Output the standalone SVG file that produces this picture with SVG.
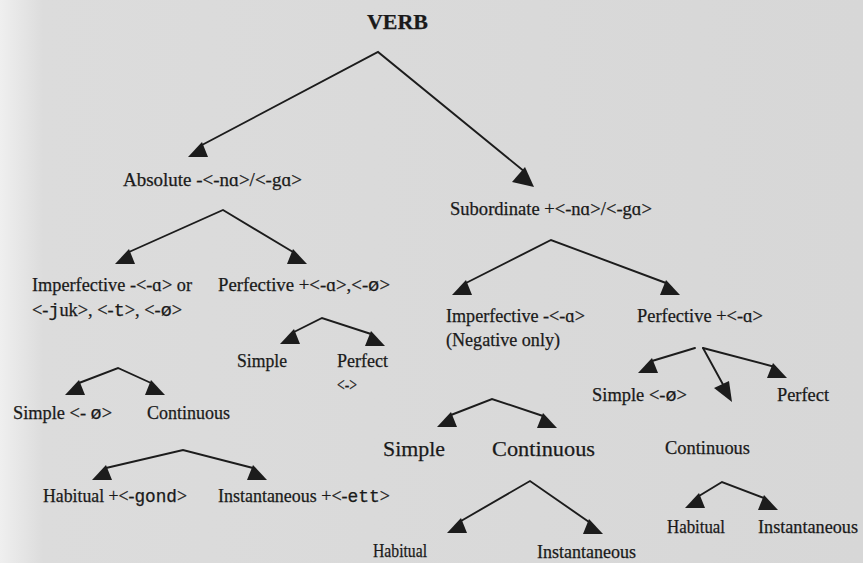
<svg xmlns="http://www.w3.org/2000/svg" xmlns:xlink="http://www.w3.org/1999/xlink" width="863" height="563" viewBox="0 0 863 563">
  <style>
    text { font-family: "Liberation Serif", "Times New Roman", serif; font-size: 18px; fill: #1a1a1a; stroke: #1a1a1a; stroke-width: 0.25; }
    .big { font-size: 22px; }
    .title { font-size: 20px; font-weight: bold; }
    .mono { font-family: "Liberation Mono", "Courier New", monospace; }
    .edge { stroke: #1c1c1c; stroke-width: 1.9; fill: none; stroke-linecap: round; }
    .head { fill: #1c1c1c; }
  </style>
  <defs>
    <linearGradient id="paper" x1="0" y1="0" x2="1" y2="0">
      <stop offset="0" stop-color="#efefef"/>
      <stop offset="0.05" stop-color="#dcdcdc"/>
      <stop offset="1" stop-color="#d7d7d7"/>
    </linearGradient>
    <!-- flat-based arrowheads: apex at origin, leaning toward the parent -->
    <polygon id="hl" class="head" points="0,0 6,15 -14,15"/>
    <polygon id="hr" class="head" points="0,0 14,15 -6,15"/>
  </defs>

  <rect width="863" height="563" fill="url(#paper)"/>

  <!-- connectors -->
  <g id="connectors">
    <!-- VERB -->
    <polyline class="edge" points="202,145 378,52 525,172"/>
    <use href="#hl" x="202" y="142"/>
    <polygon class="head" points="525,167 534,187 512,182"/>
    <!-- Absolute -->
    <polyline class="edge" points="129,252 223,210 293,252"/>
    <use href="#hl" x="129" y="249"/>
    <use href="#hr" x="293" y="249"/>
    <!-- Perfective (absolute) -->
    <polyline class="edge" points="294,332 322,318 371,334"/>
    <use href="#hl" x="294" y="329"/>
    <use href="#hr" x="371" y="331"/>
    <!-- Imperfective (absolute) -->
    <polyline class="edge" points="79,383 118,368 151,383"/>
    <use href="#hl" x="79" y="380"/>
    <use href="#hr" x="151" y="380"/>
    <!-- Continuous (absolute) -->
    <polyline class="edge" points="106,468 183,450 253,468"/>
    <use href="#hl" x="106" y="465"/>
    <use href="#hr" x="253" y="465"/>
    <!-- Subordinate -->
    <polyline class="edge" points="466,283 551,240 666,283"/>
    <use href="#hl" x="466" y="280"/>
    <use href="#hr" x="666" y="280"/>
    <!-- Perfective (subordinate) -->
    <polyline class="edge" points="652,361 695,348"/>
    <use href="#hl" x="652" y="358"/>
    <polyline class="edge" points="703,348 726,390"/>
    <polygon class="head" points="714,388 729,381 732,402"/>
    <polyline class="edge" points="703,348 775,367"/>
    <use href="#hr" x="773" y="363"/>
    <!-- Imperfective (subordinate) -->
    <polyline class="edge" points="451,415 492,399 543,416"/>
    <use href="#hl" x="451" y="412"/>
    <use href="#hr" x="543" y="413"/>
    <!-- Continuous (subordinate, imperfective) -->
    <polyline class="edge" points="461,521 530,481 589,522"/>
    <use href="#hl" x="461" y="518"/>
    <use href="#hr" x="589" y="519"/>
    <!-- Continuous (subordinate, perfective) -->
    <polyline class="edge" points="699,496 722,482 764,498"/>
    <use href="#hl" x="699" y="493"/>
    <use href="#hr" x="764" y="495"/>
  </g>

  <!-- nodes -->
  <g id="verb"><text class="title" x="367" y="29" textLength="61" lengthAdjust="spacingAndGlyphs">VERB</text></g>

  <g id="absolute"><text x="123" y="186" textLength="179" lengthAdjust="spacingAndGlyphs">Absolute -&lt;-nɑ&gt;/&lt;-gɑ&gt;</text></g>
  <g id="subordinate"><text x="450" y="215" textLength="202" lengthAdjust="spacingAndGlyphs">Subordinate +&lt;-nɑ&gt;/&lt;-gɑ&gt;</text></g>

  <g id="abs-imperfective">
    <text x="32" y="291" textLength="160" lengthAdjust="spacingAndGlyphs">Imperfective -&lt;-ɑ&gt; or</text>
    <text x="32" y="316" textLength="150" lengthAdjust="spacingAndGlyphs">&lt;-<tspan class="mono">j</tspan>uk&gt;, &lt;-<tspan class="mono">t</tspan>&gt;, &lt;-<tspan class="mono">ø</tspan>&gt;</text>
  </g>
  <g id="abs-perfective"><text x="218" y="291" textLength="172" lengthAdjust="spacingAndGlyphs">Perfective +&lt;-ɑ&gt;,&lt;-<tspan class="mono">ø</tspan>&gt;</text></g>

  <g id="abs-perf-simple"><text x="237" y="367" textLength="50" lengthAdjust="spacingAndGlyphs">Simple</text></g>
  <g id="abs-perf-perfect">
    <text x="337" y="367" textLength="51" lengthAdjust="spacingAndGlyphs">Perfect</text>
    <text x="337" y="391" textLength="20" lengthAdjust="spacingAndGlyphs">&lt;-&gt;</text>
  </g>

  <g id="abs-imp-simple"><text x="13" y="419" textLength="99" lengthAdjust="spacingAndGlyphs">Simple &lt;- <tspan class="mono">ø</tspan>&gt;</text></g>
  <g id="abs-imp-continuous"><text x="147" y="419" textLength="83" lengthAdjust="spacingAndGlyphs">Continuous</text></g>

  <g id="abs-habitual"><text x="43" y="502" textLength="144" lengthAdjust="spacingAndGlyphs">Habitual +&lt;-<tspan class="mono">gond</tspan>&gt;</text></g>
  <g id="abs-instantaneous"><text x="218" y="502" textLength="172" lengthAdjust="spacingAndGlyphs">Instantaneous +&lt;-<tspan class="mono">ett</tspan>&gt;</text></g>

  <g id="sub-imperfective">
    <text x="446" y="322" textLength="139" lengthAdjust="spacingAndGlyphs">Imperfective -&lt;-ɑ&gt;</text>
    <text x="446" y="346" textLength="114" lengthAdjust="spacingAndGlyphs">(Negative only)</text>
  </g>
  <g id="sub-perfective"><text x="637" y="322" textLength="126" lengthAdjust="spacingAndGlyphs">Perfective +&lt;-ɑ&gt;</text></g>

  <g id="sub-perf-simple"><text x="592" y="401" textLength="95" lengthAdjust="spacingAndGlyphs">Simple &lt;-<tspan class="mono">ø</tspan>&gt;</text></g>
  <g id="sub-perf-perfect"><text x="777" y="401" textLength="52" lengthAdjust="spacingAndGlyphs">Perfect</text></g>
  <g id="sub-perf-continuous"><text x="665" y="454" textLength="85" lengthAdjust="spacingAndGlyphs">Continuous</text></g>

  <g id="sub-imp-simple"><text class="big" x="383" y="456" textLength="62" lengthAdjust="spacingAndGlyphs">Simple</text></g>
  <g id="sub-imp-continuous"><text class="big" x="492" y="456" textLength="103" lengthAdjust="spacingAndGlyphs">Continuous</text></g>

  <g id="sub-imp-habitual"><text x="373" y="557" textLength="54" lengthAdjust="spacingAndGlyphs">Habitual</text></g>
  <g id="sub-imp-instantaneous"><text x="537" y="558" textLength="99" lengthAdjust="spacingAndGlyphs">Instantaneous</text></g>

  <g id="sub-perf-habitual"><text x="667" y="533" textLength="58" lengthAdjust="spacingAndGlyphs">Habitual</text></g>
  <g id="sub-perf-instantaneous"><text x="758" y="533" textLength="100" lengthAdjust="spacingAndGlyphs">Instantaneous</text></g>
</svg>
